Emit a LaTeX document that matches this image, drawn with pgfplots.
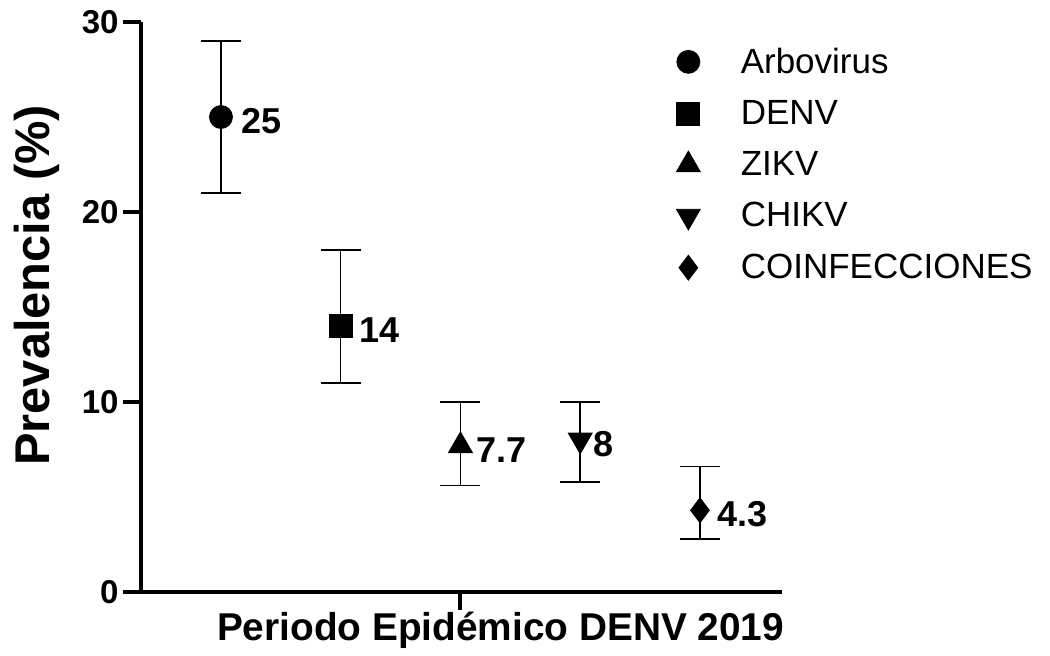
\documentclass[border=0pt]{standalone}
\usepackage{fontspec}
\setmainfont{Liberation Sans}
\usepackage{pgfplots}
\pgfplotsset{compat=1.18}

\pgfplotsset{
  errs/.style={
    error bars/y dir=both,
    error bars/y explicit,
    error bars/error bar style={line width=0.75pt, black},
    error bars/error mark options={rotate=90, line width=0.75pt, black, mark size=10pt},
  },
}

\begin{document}
\begin{tikzpicture}
\useasboundingbox (-70.5pt,-31.5pt) rectangle (454.5pt,296pt);
\begin{axis}[
  scale only axis,
  width=320.5pt, height=285pt,
  at={(0pt,0pt)}, anchor=south west,
  xmin=0.332, xmax=5.685,
  ymin=0, ymax=30,
  clip=false,
  axis x line=bottom, axis y line=left,
  axis line style={line width=2pt, -},
  tick align=outside,
  major tick length=9pt,
  tick style={line width=2pt, black},
  xtick={3}, xticklabels={},
  ytick={0,10,20,30},
  /pgf/number format/assume math mode=true,
  ticklabel style={font=\bfseries\fontsize{16.5}{19}\selectfont, inner sep=2pt},
  xlabel={\bfseries Periodo Epidémico DENV 2019},
  xlabel style={font=\fontsize{19.4}{22}\selectfont, at={(axis description cs:0.561,0)}, anchor=base, yshift=-24pt},
  ylabel={\bfseries Prevalencia (\%)},
  ylabel style={font=\fontsize{24.4}{28}\selectfont, at={(axis description cs:-0.1425,0.538)}, anchor=base},
  nodes near coords style={font=\bfseries\fontsize{18}{21}\selectfont, anchor=west, inner sep=0pt, yshift=-2pt, black},
  point meta=y,
  legend style={draw=none, fill=none, inner sep=0pt, outer sep=0pt,
    at={(axis description cs:0.8346,0.955)}, anchor=north west,
    font=\fontsize{17.5}{20}\selectfont,
    nodes={inner sep=0pt}, row sep=12pt},
  legend cell align=left,
  legend image code/.code={\path (-6pt,0pt) (26pt,0pt); \draw[#1] plot coordinates {(0pt,0pt)};},
]

\addplot[only marks, black, mark=*, mark size=5.75pt, nodes near coords,
  every node near coord/.append style={xshift=10pt}, errs]
  coordinates {(1,25) += (0,4) -= (0,4)};
\addlegendentry{Arbovirus}

\addplot[only marks, black, mark=square*, mark size=5.75pt, nodes near coords,
  every node near coord/.append style={xshift=9pt}, errs]
  coordinates {(2,14) += (0,4) -= (0,3)};
\addlegendentry{DENV}

\addplot[only marks, black, mark=triangle*, mark size=6.9pt, nodes near coords,
  every node near coord/.append style={xshift=8pt}, errs]
  coordinates {(3,7.7) += (0,2.3) -= (0,2.1)};
\addlegendentry{ZIKV}

\addplot[only marks, black, mark=triangle*, mark size=6.9pt, mark options={rotate=180}, nodes near coords,
  every node near coord/.append style={xshift=6.5pt}, errs]
  coordinates {(4,8) += (0,2) -= (0,2.2)};
\addlegendentry{CHIKV}

\addplot[only marks, black, mark=diamond*, mark size=6.25pt, nodes near coords,
  every node near coord/.append style={xshift=8.75pt}, errs]
  coordinates {(5,4.3) += (0,2.3) -= (0,1.5)};
\addlegendentry{COINFECCIONES}

\end{axis}
\end{tikzpicture}
\end{document}
